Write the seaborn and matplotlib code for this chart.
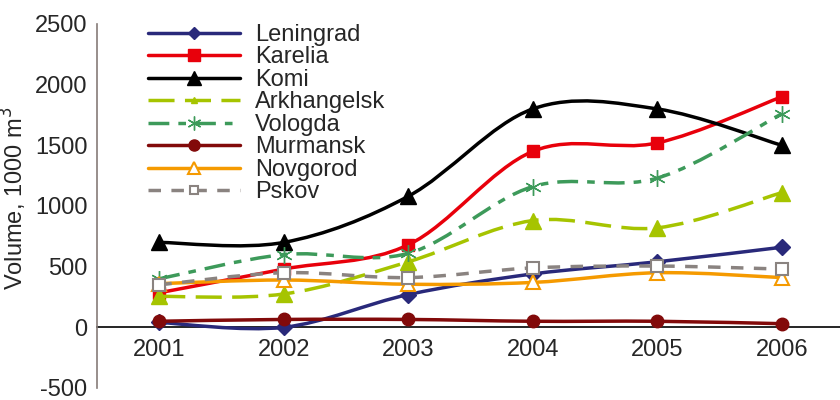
import numpy as np
import matplotlib
matplotlib.use("Agg")
import matplotlib.pyplot as plt
from matplotlib.path import Path
from matplotlib.patches import PathPatch
from matplotlib.lines import Line2D
import seaborn as sns

years = ["2001", "2002", "2003", "2004", "2005", "2006"]
regions = ["Leningrad", "Karelia", "Komi", "Arkhangelsk", "Vologda",
           "Murmansk", "Novgorod", "Pskov"]

leningrad = [40, 0, 270, 440, 540, 660]
karelia = [285, 480, 680, 1450, 1520, 1900]
komi = [700, 700, 1080, 1800, 1800, 1500]
arkhangelsk = [255, 275, 540, 880, 820, 1110]
vologda = [400, 600, 610, 1160, 1230, 1760]
murmansk = [50, 65, 65, 50, 50, 30]
novgorod = [360, 390, 355, 370, 450, 410]
pskov = [350, 450, 410, 490, 505, 480]

values = [leningrad, karelia, komi, arkhangelsk, vologda, murmansk, novgorod, pskov]

# colour, marker, fill, plot marker size, legend marker size, dashes
styles = {
    "Leningrad": ("#29297a", "D", None, 8, 6, None),
    "Karelia": ("#e8000b", "s", None, 9, 8, None),
    "Komi": ("#000000", "^", None, 11, 10, None),
    "Arkhangelsk": ("#a6c400", "^", None, 12, 4, (7.5, 3.0)),
    "Vologda": ("#3d9a5a", (6, 2, 0), None, 12, 10, (6.0, 2.6, 2.2, 2.6)),
    "Murmansk": ("#820a0a", "o", None, 9, 8, None),
    "Novgorod": ("#f59a00", "^", "white", 10, 8, None),
    "Pskov": ("#8a8380", "s", "white", 9, 6, (3.6, 3.0)),
}

LW = 2.5
FS = 17


def smooth_path(xs, ys):
    # bezier segments like a spreadsheet "smoothed line"
    pts = np.column_stack([xs, ys]).astype(float)
    n = len(pts)
    verts = [pts[0]]
    codes = [Path.MOVETO]
    for i in range(n - 1):
        p_prev = pts[i - 1] if i > 0 else pts[i]
        p_next2 = pts[i + 2] if i + 2 < n else pts[i + 1]
        c1 = pts[i] + (pts[i + 1] - p_prev) / 6.0
        c2 = pts[i + 1] - (p_next2 - pts[i]) / 6.0
        verts += [c1, c2, pts[i + 1]]
        codes += [Path.CURVE4] * 3
    return Path(verts, codes)


sns.set_style("white")
plt.rcParams["font.family"] = ["Liberation Sans", "DejaVu Sans"]
plt.rcParams["font.size"] = FS
plt.rcParams["axes.unicode_minus"] = False

fig = plt.figure(figsize=(8.4, 4.0), dpi=100)
ax = fig.add_axes([97 / 840, 12 / 400, 747 / 840, 364 / 400])

x_pos = np.arange(len(years))
handles = []
for i, (name, vals) in enumerate(zip(regions, values)):
    color, marker, fill, ms, lms, dashes = styles[name]
    ls = "-" if dashes is None else (0, dashes)
    patch = PathPatch(smooth_path(x_pos, vals), fill=False, edgecolor=color,
                      lw=LW, linestyle=ls, zorder=2 + i * 0.1, capstyle="butt")
    ax.add_patch(patch)
    face = color if fill is None else fill
    sns.lineplot(x=x_pos, y=vals, ax=ax, marker=marker, linestyle="none",
                 markersize=ms, markerfacecolor=face, markeredgecolor=color,
                 markeredgewidth=1.5 if fill else 1.0, color=color,
                 zorder=2 + i * 0.1 + 0.05, legend=False)
    handles.append(Line2D([], [], color=color, lw=LW, linestyle=ls,
                          marker=marker, markersize=lms, markerfacecolor=face,
                          markeredgecolor=color,
                          markeredgewidth=1.5 if fill else 1.0,
                          dash_capstyle="butt"))

ax.set_xlim(-0.5, 5.5)
ax.set_ylim(-500, 2500)
ax.set_yticks(range(-500, 2501, 500))
ax.set_xticks(x_pos, labels=years)
ax.set_xticks(np.arange(-0.5, 6.0, 1.0), minor=True)

for side in ["top", "right"]:
    ax.spines[side].set_visible(False)
ax.spines["bottom"].set_position(("data", 0))
ax.spines["bottom"].set_color("black")
ax.spines["bottom"].set_linewidth(1.2)
ax.spines["left"].set_color("#867c78")
ax.spines["left"].set_linewidth(1.2)
ax.spines["bottom"].set_zorder(1.5)

ax.tick_params(axis="x", which="major", length=0, pad=8.5, labelsize=FS)
ax.tick_params(axis="x", which="minor", length=4.5, width=1.0,
               direction="out", color="black")
ax.tick_params(axis="y", which="major", length=4.5, width=1.0,
               direction="out", color="#867c78", pad=2.5, labelsize=FS)

ax.set_ylabel("Volume, 1000 m$^3$", fontsize=FS)
ax.yaxis.set_label_coords(-0.091, 0.52)

ax.legend(handles, regions, loc="upper left",
          bbox_to_anchor=(148 / 840, 1 - 24 / 400),
          bbox_transform=fig.transFigure, frameon=False, fontsize=FS,
          handlelength=3.9, handletextpad=0.62, labelspacing=0.02,
          borderpad=0, borderaxespad=0)

fig.savefig("out.png", dpi=100)
